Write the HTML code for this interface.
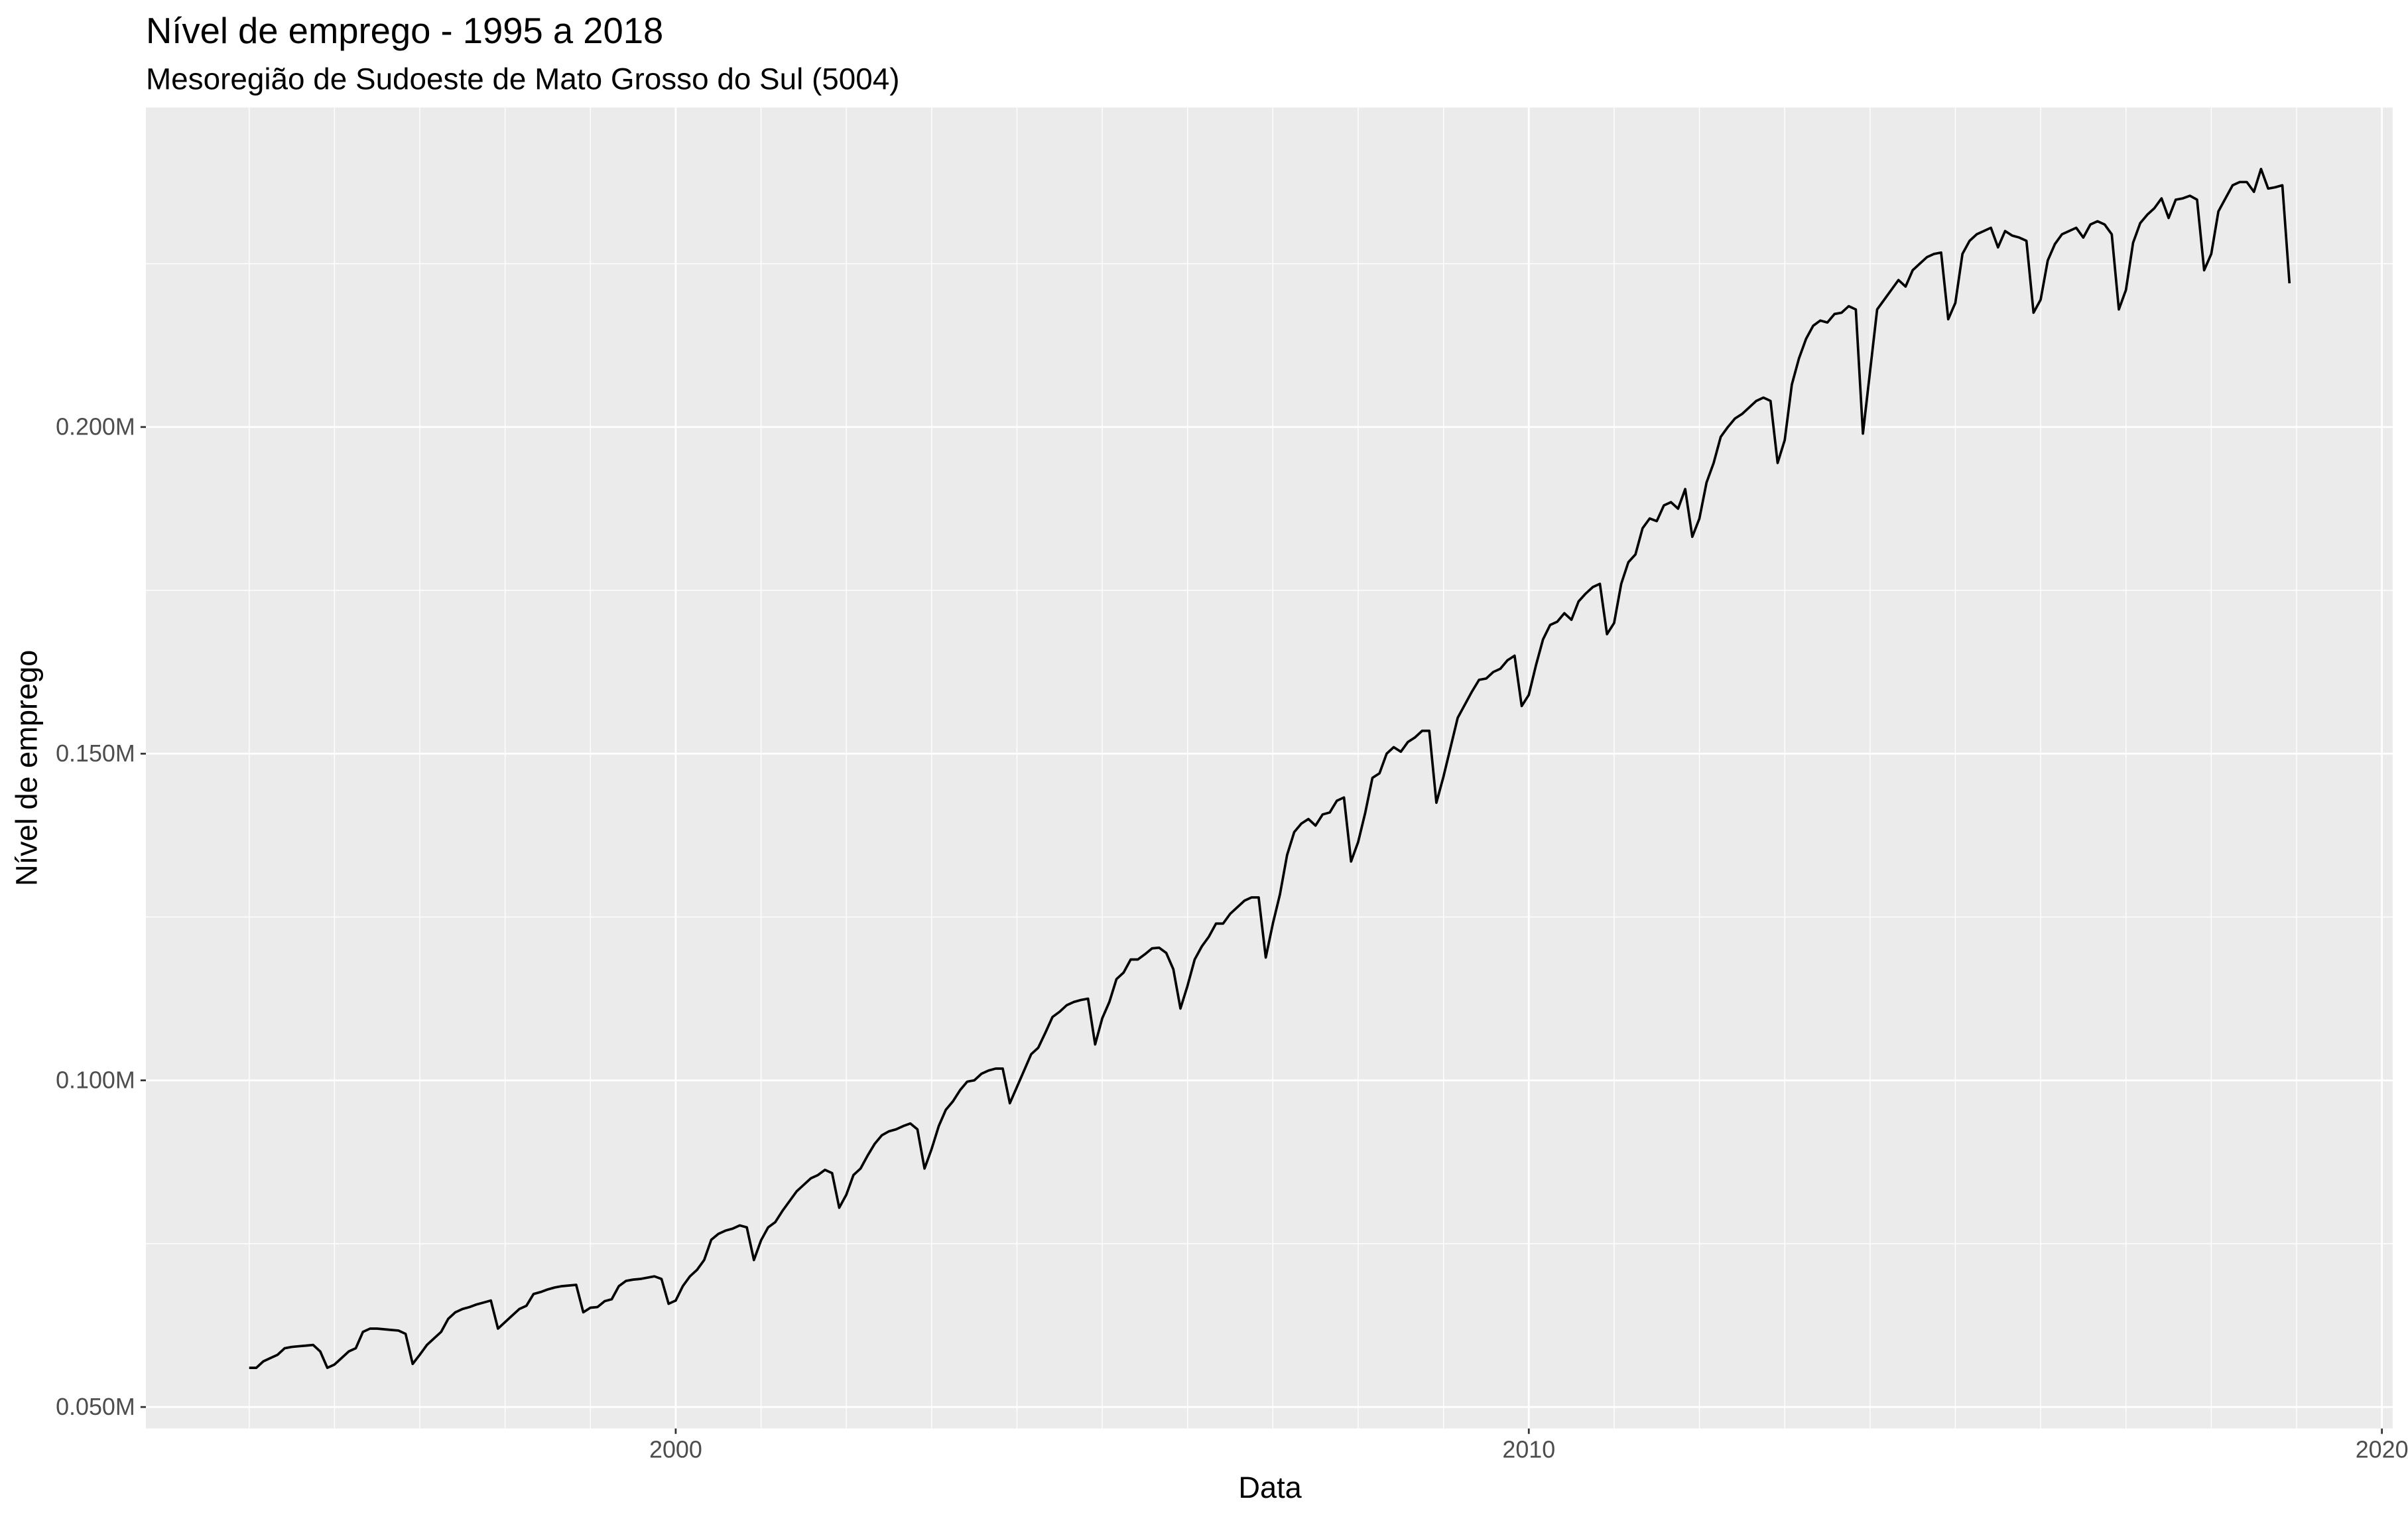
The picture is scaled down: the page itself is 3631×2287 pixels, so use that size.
<!DOCTYPE html>
<html><head><meta charset="utf-8"><style>
html,body{margin:0;padding:0;background:#fff;}
svg{display:block;font-family:"Liberation Sans",Arial,sans-serif;}
</style></head><body>
<svg id="chart" width="3631" height="2287" viewBox="0 0 1568 987.6" preserveAspectRatio="none" xmlns="http://www.w3.org/2000/svg">
<text x="95" y="28" font-size="23.5" fill="#000">Nível de emprego - 1995 a 2018</text>
<text x="95" y="58" font-size="19.8" fill="#000">Mesoregião de Sudoeste de Mato Grosso do Sul (5004)</text>
<rect x="95" y="70" width="1463" height="860" fill="#ebebeb"/>
<g id="grid"></g>
<g id="axes"></g>
<path id="line" fill="none" stroke="#000" stroke-width="1.6" stroke-linejoin="round"/>
<text x="827" y="975" font-size="19.5" text-anchor="middle" fill="#000">Data</text>
<text transform="translate(24,500) rotate(-90)" font-size="19.5" text-anchor="middle" fill="#000">Nível de emprego</text>
</svg>
<script>
const years = [1995,1996,1997,1998,1999,2000,2001,2002,2003,2004,2005,2006,2007,2008,2009,2010,2011,2012,2013,2014,2015,2016,2017,2018];
const values = [
[56,56,57,57.5,58,59,59.2,59.3,59.4,59.5,58.5,56],
[56.5,57.5,58.5,59,61.5,62,62,61.9,61.8,61.7,61.2,56.6],
[58,59.5,60.5,61.5,63.5,64.5,65,65.3,65.7,66,66.3,62],
[63,64,65,65.5,67.3,67.6,68,68.3,68.5,68.6,68.7,64.5],
[65.2,65.3,66.2,66.5,68.5,69.3,69.5,69.6,69.8,70,69.6,65.8],
[66.3,68.5,70,71,72.5,75.6,76.5,77,77.3,77.8,77.5,72.5],
[75.5,77.5,78.3,80,81.5,83,84,85,85.5,86.3,85.8,80.5],
[82.5,85.5,86.5,88.5,90.3,91.6,92.2,92.5,93,93.4,92.5,86.5],
[89.5,93,95.5,96.8,98.5,99.8,100,101,101.5,101.8,101.8,96.5],
[99,101.5,104,105,107.3,109.7,110.5,111.5,112,112.3,112.5,105.5],
[109.5,112,115.5,116.5,118.5,118.5,119.3,120.2,120.3,119.5,117,111],
[114.5,118.5,120.5,122,124,124,125.5,126.5,127.5,128,128,118.8],
[124,128.5,134.5,138,139.3,140,139,140.7,141,142.8,143.3,133.5],
[136.5,141,146.3,147,150,151,150.3,151.8,152.5,153.5,153.5,142.5],
[146.5,151,155.5,157.5,159.5,161.3,161.5,162.5,163,164.3,165,157.3],
[159,163.5,167.5,169.7,170.2,171.5,170.5,173.3,174.5,175.5,176,168.3],
[170,176,179.3,180.5,184.5,186,185.6,188,188.5,187.5,190.5,183.2],
[186,191.5,194.5,198.5,200,201.3,202,203,204,204.5,204,194.5],
[198,206.5,210.5,213.5,215.5,216.3,216,217.3,217.5,218.5,218,199],
[208.5,218,219.5,221,222.5,221.5,224,225,226,226.5,226.7,216.5],
[219,226.5,228.5,229.5,230,230.5,227.5,230,229.3,229,228.5,217.5],
[219.5,225.5,228,229.5,230,230.5,229,231,231.5,231,229.5,218],
[221,228.2,231.2,232.5,233.5,235,232,234.8,235,235.4,234.8,224],
[226.5,233,235,237,237.5,237.5,236,239.5,236.5,236.7,237,222]
];
const yTicks = [50,100,150,200];
const yTickLabels = ["0.050M","0.100M","0.150M","0.200M"];
const yMinor = [75,125,175,225];
const xTicks = [2000,2010,2020];
const xTickLabels = ["2000","2010","2020"];

const NS = "http://www.w3.org/2000/svg";
function xScale(t){ return 440 + (t - 2000) * 55.55; }
function yScale(v){ return 916 - (v - 50) * 4.2533; }
const grid = document.getElementById('grid');
const axes = document.getElementById('axes');
function mk(tag, attrs, parent){ const e=document.createElementNS(NS,tag); for(const k in attrs) e.setAttribute(k,attrs[k]); parent.appendChild(e); return e; }

yMinor.forEach(v=>{
  const l=mk('line',{x1:95,x2:1558,y1:yScale(v),y2:yScale(v),stroke:'#fff','stroke-width':0.6},grid);
  
  
});
for(let yr=1995; yr<=2020; yr++){
  if (xTicks.includes(yr)) continue;
  const l=mk('line',{x1:xScale(yr),x2:xScale(yr),y1:70,y2:930,stroke:'#fff','stroke-width':0.6},grid);
  
  
}
yTicks.forEach((v,i)=>{
  const y=yScale(v);
  const l=mk('line',{x1:95,x2:1558,y1:y,y2:y,stroke:'#fff','stroke-width':1.2},grid);
  
  
  const t=mk('line',{x1:91.5,x2:95,y1:y,y2:y,stroke:'#333','stroke-width':1.2},axes);
  
  
  const tx=mk('text',{x:88,y:y+5,'font-size':15.5,'text-anchor':'end',fill:'#4d4d4d'},axes);
  tx.textContent=yTickLabels[i];
  
  
});
xTicks.forEach((yr,i)=>{
  const x=xScale(yr);
  const l=mk('line',{x1:x,x2:x,y1:70,y2:930,stroke:'#fff','stroke-width':1.2},grid);
  
  
  const t=mk('line',{x1:x,x2:x,y1:930,y2:933.5,stroke:'#333','stroke-width':1.2},axes);
  
  
  const tx=mk('text',{x:x,y:949,'font-size':15.5,'text-anchor':'middle',fill:'#4d4d4d'},axes);
  tx.textContent=xTickLabels[i];
  
  
});
let d='';
years.forEach((yr,i)=>{
  values[i].forEach((v,m)=>{
    const x=xScale(yr+m/12), y=yScale(v);
    d += (d?'L':'M') + x.toFixed(2)+','+y.toFixed(2);
  });
});
document.getElementById('line').setAttribute('d',d);
</script>
</body></html>
